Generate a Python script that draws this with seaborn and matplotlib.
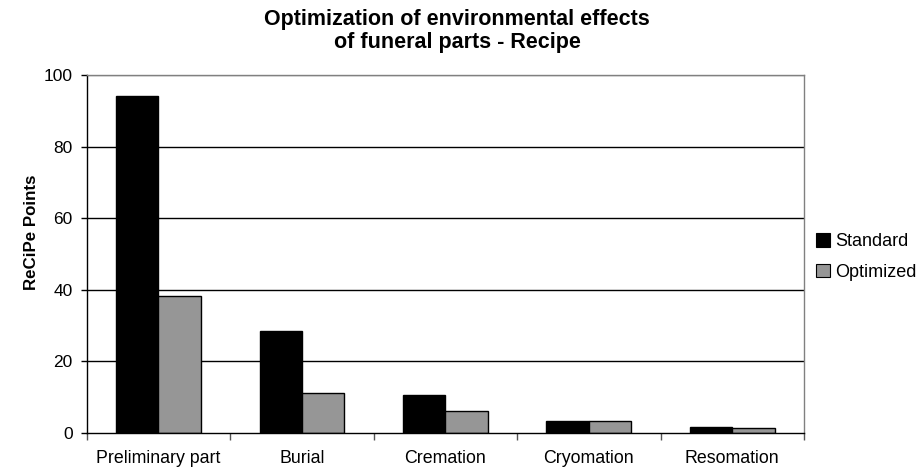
import matplotlib
matplotlib.use("Agg")
import matplotlib.pyplot as plt
import seaborn as sns
import pandas as pd
from matplotlib.patches import Patch

categories = ["Preliminary part", "Burial", "Cremation", "Cryomation", "Resomation"]
standard = [94.0, 28.5, 10.7, 3.4, 1.6]
optimized = [38.3, 11.1, 6.1, 3.4, 1.5]
series_names = ["Standard", "Optimized"]
colors = ["#000000", "#969696"]
y_ticks = [0, 20, 40, 60, 80, 100]

df = pd.DataFrame({
    "category": categories * 2,
    "series": [series_names[0]] * len(categories) + [series_names[1]] * len(categories),
    "value": standard + optimized,
})

sns.set_theme(style="white")
plt.rcParams["font.family"] = ["Liberation Sans", "DejaVu Sans"]
plt.rcParams["text.color"] = "black"
plt.rcParams["xtick.color"] = "black"
plt.rcParams["ytick.color"] = "black"
plt.rcParams["axes.labelcolor"] = "black"

fig = plt.figure(figsize=(9.22, 4.75), dpi=100)
ax = fig.add_axes([86.7 / 922, 1 - 433 / 475, (804 - 86.7) / 922, (433 - 75) / 475])

sns.barplot(data=df, x="category", y="value", hue="series", order=categories,
            hue_order=series_names, palette=colors, width=0.59, gap=0,
            edgecolor="black", linewidth=1.0, saturation=1, ax=ax, legend=False)

ax.set_ylim(0, 100)
ax.set_xlim(-0.5, len(categories) - 0.5)
ax.set_yticks(y_ticks)
ax.set_yticklabels([str(v) for v in y_ticks], fontsize=12.5, color="black")
for v in y_ticks[1:-1]:
    ax.axhline(v, color="black", linewidth=1.0, zorder=0)
ax.axhline(100, color="#808080", linewidth=1.0, zorder=0)

ax.set_xticks([i - 0.5 for i in range(len(categories) + 1)])
ax.set_xticklabels([])
ax.set_xticks(range(len(categories)), minor=True)
ax.set_xticklabels(categories, minor=True, fontsize=12.8, color="black")
ax.tick_params(axis="x", which="major", length=5, width=1, color="#555555", direction="out", bottom=True)
ax.tick_params(axis="x", which="minor", length=0, pad=12)
ax.tick_params(axis="y", which="major", length=4, width=1, color="black", direction="out", left=True, pad=6)

ax.set_xlabel("")
ax.set_ylabel("")
ax.grid(False)
for s in ["left", "bottom"]:
    ax.spines[s].set_color("black")
    ax.spines[s].set_linewidth(1.0)
ax.spines["top"].set_color("#808080")
ax.spines["right"].set_color("#808080")
ax.spines["top"].set_linewidth(1.0)
ax.spines["right"].set_linewidth(1.0)

fig.text(31 / 922, 1 - 232 / 475, "ReCiPe Points", rotation=90, fontsize=12.2,
         fontweight="bold", ha="center", va="center", color="black")
fig.text(457 / 922, 1 - 31 / 475,
         "Optimization of environmental effects\nof funeral parts - Recipe",
         fontsize=15.5, fontweight="bold", ha="center", va="center", linespacing=1.1,
         color="black")

handles = [Patch(facecolor=c, edgecolor="black", linewidth=0.8) for c in colors]
fig.legend(handles, series_names, loc="center left", bbox_to_anchor=(816 / 922, 1 - 257 / 475),
           frameon=False, fontsize=13, handlelength=0.75, handleheight=0.75,
           handletextpad=0.3, labelspacing=0.75, borderpad=0, borderaxespad=0,
           labelcolor="black")

fig.savefig("out.png", dpi=100)
